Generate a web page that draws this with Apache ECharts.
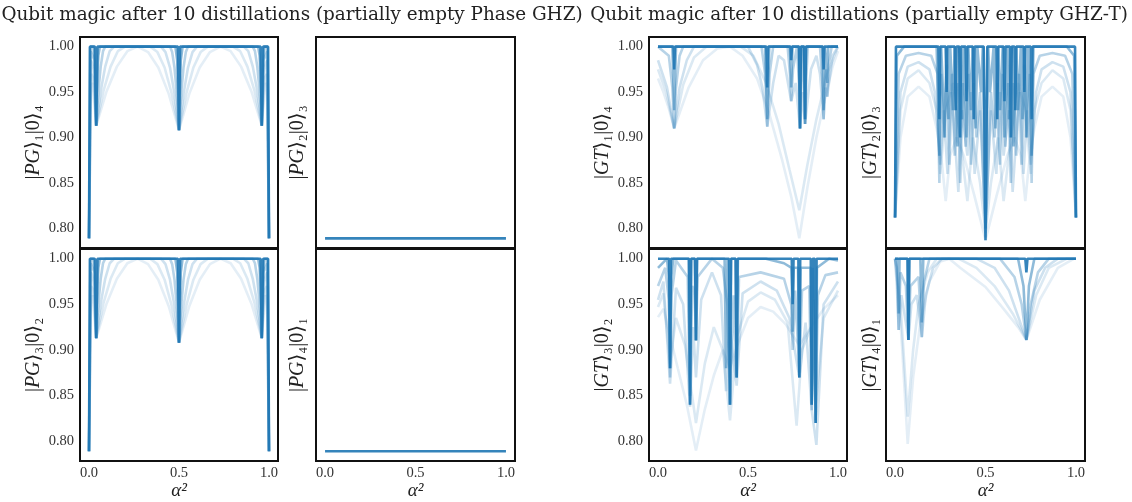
<!DOCTYPE html>
<html><head><meta charset="utf-8">
<script src="https://cdn.jsdelivr.net/npm/echarts@6/dist/echarts.min.js"></script>
<style>html,body{margin:0;padding:0;background:#fff}#c{width:1132px;height:502px}</style>
</head><body><div id="c"></div>
<script>
// ---------- tick labels & texts ----------
const xTicks = [0.0, 0.5, 1.0];
const yTicks = [0.80, 0.85, 0.90, 0.95, 1.00];
const titleLeft = 'Qubit magic after 10 distillations (partially empty Phase GHZ)';
const titleRight = 'Qubit magic after 10 distillations (partially empty GHZ-T)';
const yNames = ['|{i|PG}⟩₁|0⟩₄','|{i|PG}⟩₂|0⟩₃','|{i|GT}⟩₁|0⟩₄','|{i|GT}⟩₂|0⟩₃',
                '|{i|PG}⟩₃|0⟩₂','|{i|PG}⟩₄|0⟩₁','|{i|GT}⟩₃|0⟩₂','|{i|GT}⟩₄|0⟩₁'];
const xName = 'α²';

// ---------- |PG>1|0>4 and |PG>3|0>2 (identical) ----------
const pg_it1 = [[0,0.789],[0.01,0.955],[0.02,0.96],[0.04,0.913],[0.098,0.951],[0.155,0.978],[0.213,0.995],[0.27,1.0],[0.328,0.994],[0.385,0.977],[0.443,0.948],[0.5,0.908],[0.557,0.948],[0.615,0.977],[0.672,0.994],[0.73,1.0],[0.787,0.995],[0.845,0.978],[0.902,0.951],[0.96,0.913],[0.98,0.96],[0.99,0.955],[1.0,0.789]];
const pg_it2 = [[0,0.789],[0.012,0.97],[0.025,0.965],[0.04,0.913],[0.08,0.951],[0.12,0.978],[0.16,0.995],[0.2,1.0],[0.34,1.0],[0.38,0.994],[0.42,0.977],[0.46,0.948],[0.5,0.908],[0.54,0.948],[0.58,0.977],[0.62,0.994],[0.66,1.0],[0.8,1.0],[0.84,0.995],[0.88,0.978],[0.92,0.951],[0.96,0.913],[0.975,0.965],[0.988,0.97],[1.0,0.789]];
const pg_it3 = [[0,0.789],[0.012,0.985],[0.027,0.975],[0.04,0.913],[0.065,0.951],[0.09,0.978],[0.115,0.995],[0.14,1.0],[0.4,1.0],[0.425,0.994],[0.45,0.977],[0.475,0.948],[0.5,0.908],[0.525,0.948],[0.55,0.977],[0.575,0.994],[0.6,1.0],[0.86,1.0],[0.885,0.995],[0.91,0.978],[0.935,0.951],[0.96,0.913],[0.973,0.975],[0.988,0.985],[1.0,0.789]];
const pg_it4 = [[0,0.789],[0.01,0.995],[0.03,0.985],[0.04,0.913],[0.052,0.951],[0.065,0.978],[0.078,0.995],[0.09,1.0],[0.45,1.0],[0.462,0.994],[0.475,0.977],[0.488,0.948],[0.5,0.908],[0.512,0.948],[0.525,0.977],[0.538,0.994],[0.55,1.0],[0.91,1.0],[0.922,0.995],[0.935,0.978],[0.948,0.951],[0.96,0.913],[0.97,0.985],[0.99,0.995],[1.0,0.789]];
const pg_it5 = [[0,0.789],[0.008,1.0],[0.025,1.0],[0.032,0.985],[0.04,0.913],[0.045,0.96],[0.052,0.99],[0.06,1.0],[0.48,1.0],[0.49,0.985],[0.5,0.908],[0.51,0.985],[0.52,1.0],[0.94,1.0],[0.948,0.99],[0.955,0.96],[0.96,0.913],[0.968,0.985],[0.975,1.0],[0.992,1.0],[1.0,0.789]];
const pg_it6 = [[0,0.789],[0.005,1.0],[0.033,1.0],[0.04,0.913],[0.047,1.0],[0.494,1.0],[0.5,0.908],[0.506,1.0],[0.953,1.0],[0.96,0.913],[0.967,1.0],[0.995,1.0],[1.0,0.789]];

// ---------- |PG>2|0>3 and |PG>4|0>1 (constant) ----------
const pgFlat = [[0,0.789],[0.5,0.789],[1.0,0.789]];

// ---------- |GT>1|0>4 ----------
const gt1_it1 = [[0,0.965],[0.03,0.95],[0.06,0.932],[0.09,0.91],[0.17,0.955],[0.25,0.985],[0.33,0.998],[0.4,1.0],[0.47,0.99],[0.55,0.965],[0.62,0.925],[0.69,0.875],[0.74,0.835],[0.785,0.789],[0.83,0.845],[0.88,0.9],[0.93,0.945],[0.97,0.978],[1.0,0.995]];
const gt1_it2 = [[0,0.975],[0.045,0.95],[0.09,0.91],[0.14,0.958],[0.2,0.988],[0.27,1.0],[0.46,1.0],[0.53,0.99],[0.6,0.96],[0.67,0.915],[0.73,0.865],[0.785,0.82],[0.83,0.87],[0.88,0.92],[0.94,0.97],[1.0,1.0]];
const gt1_it3 = [[0,0.985],[0.05,0.955],[0.09,0.91],[0.12,0.955],[0.16,0.985],[0.2,1.0],[0.5,1.0],[0.55,0.98],[0.58,0.955],[0.607,0.912],[0.64,0.96],[0.67,0.99],[0.7,0.985],[0.74,0.94],[0.765,0.96],[0.789,0.91],[0.803,0.95],[0.817,0.915],[0.85,0.975],[0.88,0.99],[0.9,0.97],[0.92,0.92],[0.93,0.955],[0.94,0.945],[0.97,0.99],[1.0,1.0]];
const gt1_it4 = [[0,1.0],[0.06,0.99],[0.08,0.955],[0.09,0.91],[0.1,0.955],[0.12,0.99],[0.14,1.0],[0.575,1.0],[0.595,0.97],[0.607,0.912],[0.62,0.97],[0.64,1.0],[0.72,1.0],[0.733,0.97],[0.74,0.94],[0.75,0.975],[0.772,1.0],[0.783,0.96],[0.789,0.91],[0.796,0.96],[0.805,1.0],[0.811,0.965],[0.817,0.915],[0.824,0.965],[0.832,1.0],[0.9,1.0],[0.912,0.965],[0.92,0.92],[0.928,0.965],[0.934,0.975],[0.94,0.945],[0.948,0.98],[0.965,1.0],[1.0,1.0]];
const gt1_it5 = [[0,1.0],[0.08,1.0],[0.09,0.93],[0.1,1.0],[0.595,1.0],[0.607,0.92],[0.618,1.0],[0.733,1.0],[0.74,0.955],[0.747,1.0],[0.782,1.0],[0.789,0.91],[0.796,1.0],[0.811,1.0],[0.817,0.915],[0.823,1.0],[0.913,1.0],[0.92,0.93],[0.927,1.0],[0.935,1.0],[0.94,0.96],[0.945,1.0],[1.0,1.0]];
const gt1_it6 = [[0,1.0],[0.086,1.0],[0.09,0.975],[0.094,1.0],[0.602,1.0],[0.607,0.955],[0.612,1.0],[0.736,1.0],[0.74,0.985],[0.744,1.0],[0.784,1.0],[0.789,0.91],[0.794,1.0],[0.812,1.0],[0.817,0.92],[0.822,1.0],[0.916,1.0],[0.92,0.975],[0.924,1.0],[1.0,1.0]];

// ---------- |GT>2|0>3 ----------
const gt2_it1 = [[0,0.812],[0.03,0.9],[0.07,0.945],[0.13,0.956],[0.19,0.945],[0.23,0.91],[0.26,0.87],[0.28,0.83],[0.305,0.88],[0.34,0.9],[0.38,0.88],[0.44,0.835],[0.5,0.787],[0.56,0.835],[0.62,0.88],[0.66,0.9],[0.695,0.88],[0.72,0.83],[0.74,0.87],[0.77,0.91],[0.81,0.945],[0.87,0.956],[0.93,0.945],[0.97,0.9],[1.0,0.812]];
const gt2_it2 = [[0,0.812],[0.03,0.93],[0.07,0.965],[0.13,0.974],[0.19,0.96],[0.23,0.93],[0.25,0.86],[0.28,0.93],[0.32,0.96],[0.36,0.9],[0.4,0.83],[0.43,0.9],[0.47,0.85],[0.5,0.795],[0.53,0.85],[0.57,0.9],[0.6,0.83],[0.64,0.9],[0.68,0.96],[0.72,0.93],[0.75,0.86],[0.77,0.93],[0.81,0.96],[0.87,0.974],[0.93,0.965],[0.97,0.93],[1.0,0.812]];
const gt2_it3 = [[0,0.812],[0.03,0.95],[0.07,0.978],[0.13,0.983],[0.19,0.975],[0.22,0.95],[0.25,0.87],[0.27,0.93],[0.29,0.86],[0.31,0.95],[0.33,0.9],[0.35,0.84],[0.37,0.93],[0.4,0.88],[0.42,0.95],[0.44,0.86],[0.47,0.93],[0.5,0.8],[0.53,0.93],[0.56,0.86],[0.58,0.95],[0.6,0.88],[0.63,0.93],[0.65,0.84],[0.67,0.9],[0.69,0.95],[0.71,0.86],[0.73,0.93],[0.75,0.87],[0.78,0.95],[0.81,0.975],[0.87,0.983],[0.93,0.978],[0.97,0.95],[1.0,0.812]];
const gt2_it4 = [[0,0.812],[0.02,0.97],[0.06,0.99],[0.13,0.993],[0.2,0.99],[0.235,0.97],[0.245,0.85],[0.255,0.97],[0.27,0.9],[0.285,0.98],[0.3,0.87],[0.315,0.97],[0.33,0.88],[0.345,0.96],[0.36,0.85],[0.375,0.96],[0.39,0.89],[0.405,0.97],[0.42,0.87],[0.435,0.96],[0.45,0.9],[0.47,0.95],[0.5,0.79],[0.53,0.95],[0.55,0.9],[0.565,0.96],[0.58,0.87],[0.595,0.97],[0.61,0.89],[0.625,0.96],[0.64,0.85],[0.655,0.96],[0.67,0.88],[0.685,0.97],[0.7,0.87],[0.715,0.98],[0.73,0.9],[0.745,0.97],[0.755,0.85],[0.765,0.97],[0.8,0.99],[0.87,0.993],[0.94,0.99],[0.98,0.97],[1.0,0.812]];
const gt2_it5 = [[0,0.812],[0.01,0.99],[0.05,1.0],[0.23,1.0],[0.245,0.88],[0.255,1.0],[0.265,1.0],[0.275,0.9],[0.285,1.0],[0.295,0.92],[0.305,1.0],[0.32,0.93],[0.33,1.0],[0.345,0.89],[0.355,1.0],[0.37,0.92],[0.38,1.0],[0.395,0.9],[0.405,1.0],[0.42,0.93],[0.43,1.0],[0.445,0.91],[0.455,1.0],[0.475,0.95],[0.485,1.0],[0.5,0.8],[0.515,1.0],[0.525,0.95],[0.545,1.0],[0.555,0.91],[0.57,1.0],[0.58,0.93],[0.595,1.0],[0.605,0.9],[0.62,1.0],[0.63,0.92],[0.645,1.0],[0.655,0.89],[0.67,1.0],[0.68,0.93],[0.695,1.0],[0.705,0.92],[0.715,1.0],[0.725,0.9],[0.735,1.0],[0.745,1.0],[0.755,0.88],[0.765,1.0],[0.95,1.0],[0.99,0.99],[1.0,0.812]];
const gt2_it6 = [[0,0.812],[0.005,1.0],[0.24,1.0],[0.245,0.92],[0.25,1.0],[0.28,1.0],[0.285,0.95],[0.29,1.0],[0.33,1.0],[0.335,0.93],[0.34,1.0],[0.355,1.0],[0.36,0.9],[0.365,1.0],[0.39,1.0],[0.395,0.94],[0.4,1.0],[0.43,1.0],[0.435,0.92],[0.44,1.0],[0.49,1.0],[0.5,0.787],[0.51,1.0],[0.56,1.0],[0.565,0.92],[0.57,1.0],[0.6,1.0],[0.605,0.94],[0.61,1.0],[0.635,1.0],[0.64,0.9],[0.645,1.0],[0.66,1.0],[0.665,0.93],[0.67,1.0],[0.71,1.0],[0.715,0.95],[0.72,1.0],[0.75,1.0],[0.755,0.92],[0.76,1.0],[0.995,1.0],[1.0,0.812]];

// ---------- |GT>3|0>2 ----------
const gt3_it1 = [[0,0.936],[0.03,0.945],[0.067,0.915],[0.11,0.88],[0.16,0.84],[0.211,0.79],[0.26,0.835],[0.31,0.872],[0.36,0.9],[0.4,0.88],[0.44,0.905],[0.5,0.935],[0.57,0.947],[0.64,0.942],[0.71,0.928],[0.785,0.905],[0.85,0.925],[0.92,0.945],[1.0,0.96]];
const gt3_it2 = [[0,0.947],[0.03,0.962],[0.067,0.885],[0.1,0.935],[0.15,0.905],[0.211,0.82],[0.26,0.885],[0.31,0.925],[0.36,0.9],[0.4,0.823],[0.44,0.915],[0.5,0.953],[0.57,0.963],[0.65,0.955],[0.72,0.93],[0.77,0.817],[0.8,0.9],[0.85,0.925],[0.876,0.84],[0.92,0.935],[1.0,0.965]];
const gt3_it3 = [[0,0.955],[0.03,0.975],[0.067,0.863],[0.1,0.968],[0.14,0.95],[0.178,0.838],[0.195,0.925],[0.211,0.87],[0.24,0.955],[0.3,0.985],[0.35,0.96],[0.378,0.855],[0.4,0.925],[0.437,0.861],[0.47,0.962],[0.57,0.975],[0.66,0.965],[0.73,0.935],[0.785,0.87],[0.82,0.93],[0.854,0.834],[0.88,0.796],[0.92,0.95],[1.0,0.975]];
const gt3_it4 = [[0,0.97],[0.04,0.99],[0.06,0.955],[0.067,0.87],[0.075,0.96],[0.1,0.998],[0.165,0.98],[0.178,0.84],[0.19,0.97],[0.203,0.965],[0.211,0.91],[0.22,0.98],[0.3,1.0],[0.36,0.99],[0.385,0.95],[0.4,0.84],[0.42,0.96],[0.437,0.87],[0.45,0.98],[0.57,0.985],[0.7,0.978],[0.74,0.95],[0.748,0.9],[0.762,0.965],[0.785,0.875],[0.8,0.965],[0.84,0.97],[0.854,0.834],[0.865,0.955],[0.876,0.823],[0.888,0.96],[0.93,0.982],[1.0,0.985]];
const gt3_it5 = [[0,0.99],[0.05,1.0],[0.06,0.98],[0.067,0.88],[0.074,0.98],[0.085,1.0],[0.17,1.0],[0.178,0.85],[0.186,1.0],[0.204,1.0],[0.211,0.91],[0.218,1.0],[0.37,1.0],[0.378,0.88],[0.386,1.0],[0.393,1.0],[0.4,0.84],[0.407,1.0],[0.43,1.0],[0.437,0.87],[0.444,1.0],[0.6,1.0],[0.7,0.995],[0.742,0.99],[0.748,0.92],[0.754,0.99],[0.778,0.99],[0.785,0.87],[0.792,0.99],[0.848,0.99],[0.854,0.84],[0.86,0.99],[0.87,0.99],[0.876,0.82],[0.883,0.99],[0.95,1.0],[1.0,0.998]];
const gt3_it6 = [[0,1.0],[0.062,1.0],[0.067,0.88],[0.072,1.0],[0.173,1.0],[0.178,0.84],[0.183,1.0],[0.206,1.0],[0.211,0.911],[0.216,1.0],[0.395,1.0],[0.4,0.84],[0.405,1.0],[0.432,1.0],[0.437,0.87],[0.442,1.0],[0.743,1.0],[0.748,0.95],[0.753,1.0],[0.78,1.0],[0.785,0.87],[0.79,1.0],[0.849,1.0],[0.854,0.84],[0.859,1.0],[0.871,1.0],[0.876,0.82],[0.881,1.0],[1.0,1.0]];

// ---------- |GT>4|0>1 ----------
const gt4_it1 = [[0,1.0],[0.02,0.96],[0.04,0.9],[0.07,0.797],[0.1,0.87],[0.14,0.93],[0.19,0.975],[0.25,0.997],[0.3,1.0],[0.36,0.99],[0.5,0.969],[0.6,0.945],[0.68,0.925],[0.726,0.911],[0.8,0.955],[0.9,0.99],[0.99,1.0]];
const gt4_it2 = [[0,1.0],[0.03,0.95],[0.07,0.827],[0.1,0.9],[0.13,0.95],[0.18,0.985],[0.23,1.0],[0.35,1.0],[0.45,0.99],[0.55,0.97],[0.65,0.94],[0.726,0.911],[0.78,0.96],[0.85,0.99],[0.95,1.0],[1.0,1.0]];
const gt4_it3 = [[0,1.0],[0.01,0.97],[0.02,0.922],[0.035,0.96],[0.06,0.93],[0.074,0.911],[0.09,0.95],[0.12,0.96],[0.148,0.914],[0.17,0.96],[0.21,0.99],[0.26,1.0],[0.45,1.0],[0.55,0.99],[0.63,0.965],[0.726,0.911],[0.77,0.965],[0.83,0.99],[0.9,1.0],[1.0,1.0]];
const gt4_it4 = [[0,1.0],[0.01,0.99],[0.02,0.922],[0.03,0.985],[0.06,0.97],[0.074,0.911],[0.085,0.97],[0.13,0.98],[0.148,0.914],[0.16,0.975],[0.19,1.0],[0.58,1.0],[0.66,0.98],[0.7,0.95],[0.726,0.911],[0.75,0.95],[0.79,0.985],[0.85,1.0],[1.0,1.0]];
const gt4_it5 = [[0,1.0],[0.015,1.0],[0.02,0.94],[0.025,1.0],[0.068,1.0],[0.074,0.911],[0.08,1.0],[0.14,1.0],[0.148,0.93],[0.156,1.0],[0.68,1.0],[0.71,0.97],[0.726,0.911],[0.74,0.97],[0.77,1.0],[1.0,1.0]];
const gt4_it6 = [[0,1.0],[0.07,1.0],[0.074,0.911],[0.078,1.0],[0.72,1.0],[0.726,0.985],[0.732,1.0],[1.0,1.0]];

// ---------- assembly (styles/layout kept separate) ----------
const panelCurves = [
  [pg_it1,pg_it2,pg_it3,pg_it4,pg_it5,pg_it6],
  [pgFlat],
  [gt1_it1,gt1_it2,gt1_it3,gt1_it4,gt1_it5,gt1_it6],
  [gt2_it1,gt2_it2,gt2_it3,gt2_it4,gt2_it5,gt2_it6],
  [pg_it1,pg_it2,pg_it3,pg_it4,pg_it5,pg_it6],
  [pgFlat],
  [gt3_it1,gt3_it2,gt3_it3,gt3_it4,gt3_it5,gt3_it6],
  [gt4_it1,gt4_it2,gt4_it3,gt4_it4,gt4_it5,gt4_it6]
];
const opac = [0.12,0.16,0.22,0.32,0.5,0.9];
const boxes = [[80,37,198,211],[316,37,199,211],[649,37,198,211],[886,37,199,211],
               [80,249,198,212],[316,249,199,212],[649,249,198,212],[886,249,199,212]];
const nameGaps = [36,8,36,5,36,8,36,5];
const SERIF = "'Liberation Serif','DejaVu Serif',serif";
const TITLEFONT = "'DejaVu Serif','Liberation Serif',serif";
const BLUE = '#1f77b4';

const grids=[], xAxes=[], yAxes=[], series=[];
boxes.forEach((b,i)=>{
  grids.push({left:b[0],top:b[1],width:b[2],height:b[3],show:true,borderColor:'#111',borderWidth:2,backgroundColor:'transparent',containLabel:false});
  const bottom = i>=4, leftCol = (i%2===0);
  xAxes.push({type:'value',gridIndex:i,min:-0.05,max:1.05,
    axisLine:{show:false},axisTick:{show:false},splitLine:{show:false},
    axisLabel:{show:bottom,customValues:xTicks,formatter:v=>v.toFixed(1),color:'#333',fontFamily:SERIF,fontSize:14.5,margin:5},
    name:bottom?xName:'',nameLocation:'middle',nameGap:17,
    nameTextStyle:{fontFamily:SERIF,fontSize:19,fontStyle:'italic',color:'#222'}});
  yAxes.push({type:'value',gridIndex:i,min:0.7784,max:1.0106,
    axisLine:{show:false},axisTick:{show:false},splitLine:{show:false},
    axisLabel:{show:leftCol,customValues:yTicks,formatter:v=>v.toFixed(2),color:'#333',fontFamily:SERIF,fontSize:14.5,margin:6},
    name:yNames[i],nameLocation:'middle',nameGap:nameGaps[i],nameRotate:90,
    nameTextStyle:{fontFamily:SERIF,fontSize:20,color:'#222',rich:{i:{fontFamily:SERIF,fontSize:20,fontStyle:'italic',color:'#222'}}}});
  const cs = panelCurves[i];
  cs.forEach((d,k)=>{
    const op = cs.length===1 ? 0.9 : opac[k];
    series.push({type:'line',xAxisIndex:i,yAxisIndex:i,data:d,showSymbol:false,symbol:'none',
      lineStyle:{color:BLUE,width:2.6,opacity:op},silent:true,z:2+k});
  });
});

const chart = echarts.init(document.getElementById('c'),null,{renderer:'canvas'});
chart.setOption({
  animation:false,backgroundColor:'#fff',
  grid:grids,xAxis:xAxes,yAxis:yAxes,series:series,
  graphic:[
    {type:'text',x:292,y:15,style:{text:titleLeft,font:"18.4px "+TITLEFONT,fill:'#222',textAlign:'center',textVerticalAlign:'middle'}},
    {type:'text',x:859,y:15,style:{text:titleRight,font:"18.4px "+TITLEFONT,fill:'#222',textAlign:'center',textVerticalAlign:'middle'}}
  ]
});
</script></body></html>
